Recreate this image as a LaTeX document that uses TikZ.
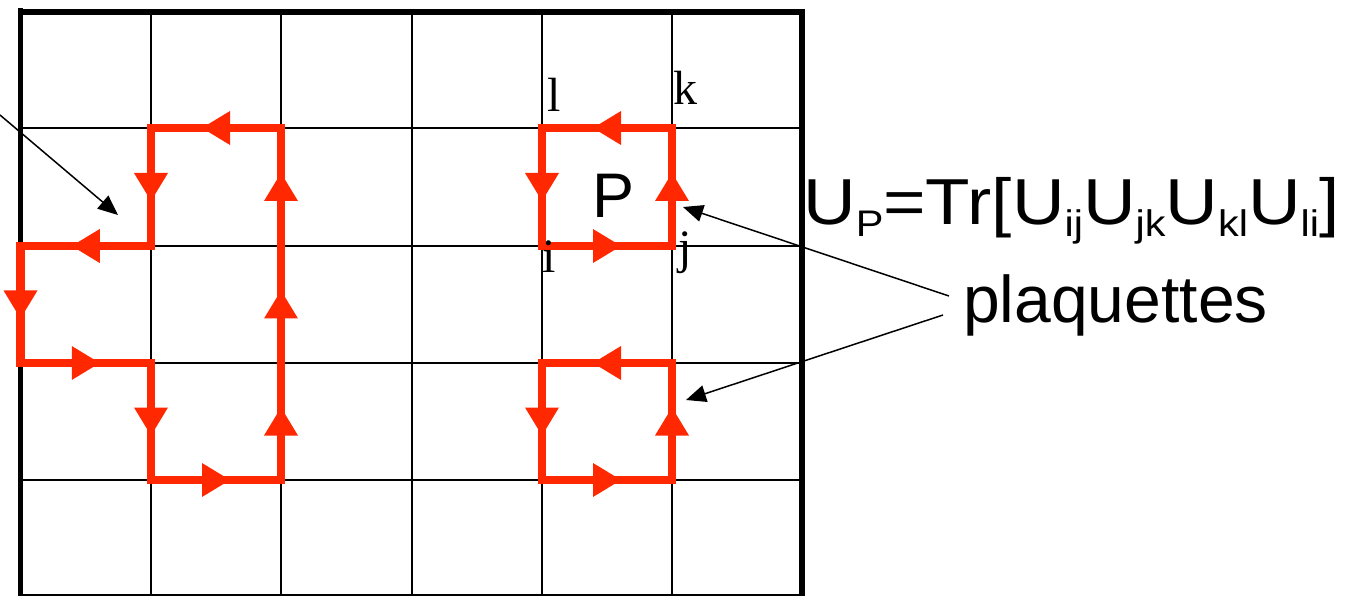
\documentclass[tikz,border=0pt]{standalone}
\usepackage{fontspec}
\setmainfont{Liberation Sans}
\newfontfamily\labfont{Liberation Serif}
\usetikzlibrary{arrows.meta,decorations.markings}
\definecolor{lred}{RGB}{255,40,0}
\newcommand{\lsub}[1]{\raisebox{-12pt}{\fontsize{37}{37}\selectfont #1}}
\begin{document}
\begin{tikzpicture}[x=1pt,y=-1pt,
  gridline/.style={line width=2pt},
  borderline/.style={line width=5.5pt},
  redseg/.style={color=lred,line width=8.5pt,line cap=rect,
    postaction={decorate},
    decoration={markings,mark=at position 0.5 with {\fill[lred] (14pt,0pt) -- (-14pt,17pt) -- (-14pt,-17pt) -- cycle;}}},
  blackarrow/.style={line width=1.5pt,-{Triangle[length=20pt,width=17pt]}},
  biglabel/.style={inner sep=0pt,anchor=base west,font=\fontsize{65}{65}\selectfont},
  serlabel/.style={inner sep=0pt,anchor=base west,font=\labfont\fontsize{48}{48}\selectfont}
]
\useasboundingbox (0,0) rectangle (1353,596);
% lattice points
\foreach \x [count=\i from 0] in {20.5,151,281,412,542,672,802}
  \foreach \y [count=\j from 0] in {12,128,246,363,480,595}
    \coordinate (g\i\j) at (\x,\y);
% grid
\foreach \i in {1,...,5} \draw[gridline] (g\i0) -- (g\i5);
\foreach \j in {1,...,4} \draw[gridline] (g0\j) -- (g6\j);
\draw[line width=1.2pt] (g05) -- (g65);
\draw[borderline] (20.5,8) -- (20.5,596);
\draw[borderline] (18,12) -- (805,12);
\draw[borderline] (802,9) -- (802,596);
% left loop
\draw[redseg] (g21) -- (g11);
\draw[redseg] (g11) -- (g12);
\draw[redseg] (g12) -- (g02);
\draw[redseg] (g02) -- (g03);
\draw[redseg] (g03) -- (g13);
\draw[redseg] (g13) -- (g14);
\draw[redseg] (g14) -- (g24);
\draw[redseg] (g24) -- (g23);
\draw[redseg] (g23) -- (g22);
\draw[redseg] (g22) -- (g21);
% plaquette P
\draw[redseg] (g42) -- (g52);
\draw[redseg] (g52) -- (g51);
\draw[redseg] (g51) -- (g41);
\draw[redseg] (g41) -- (g42);
% lower plaquette
\draw[redseg] (g44) -- (g54);
\draw[redseg] (g54) -- (g53);
\draw[redseg] (g53) -- (g43);
\draw[redseg] (g43) -- (g44);
% labels
\node[serlabel] (ll) at (547,112) {l};
\node[serlabel] (lk) at (673,105) {k};
\node[serlabel] (li) at (542,273) {i};
\node[serlabel] (lj) at (678,264) {j};
\node[inner sep=0pt,anchor=base west,font=\fontsize{63}{63}\selectfont] (lp) at (592,218) {P};
\node[biglabel] (form) at (803,225) {\scalebox{1.12}[1]{U\lsub{P}=Tr[U\lsub{ij}U\lsub{jk}U\lsub{kl}U\lsub{li}]}};
\node[biglabel,font=\fontsize{66}{66}\selectfont] (plaq) at (963,323) {plaquettes};
% arrows
\coordinate (a0) at (0,115);
\coordinate (a0t) at (118,215);
\coordinate (b1) at (949,296);
\coordinate (b1t) at (683,207);
\coordinate (b2) at (943,315);
\coordinate (b2t) at (686,400);
\draw[blackarrow] (a0) -- (a0t);
\draw[blackarrow] (b1) -- (b1t);
\draw[blackarrow] (b2) -- (b2t);
\end{tikzpicture}
\end{document}
